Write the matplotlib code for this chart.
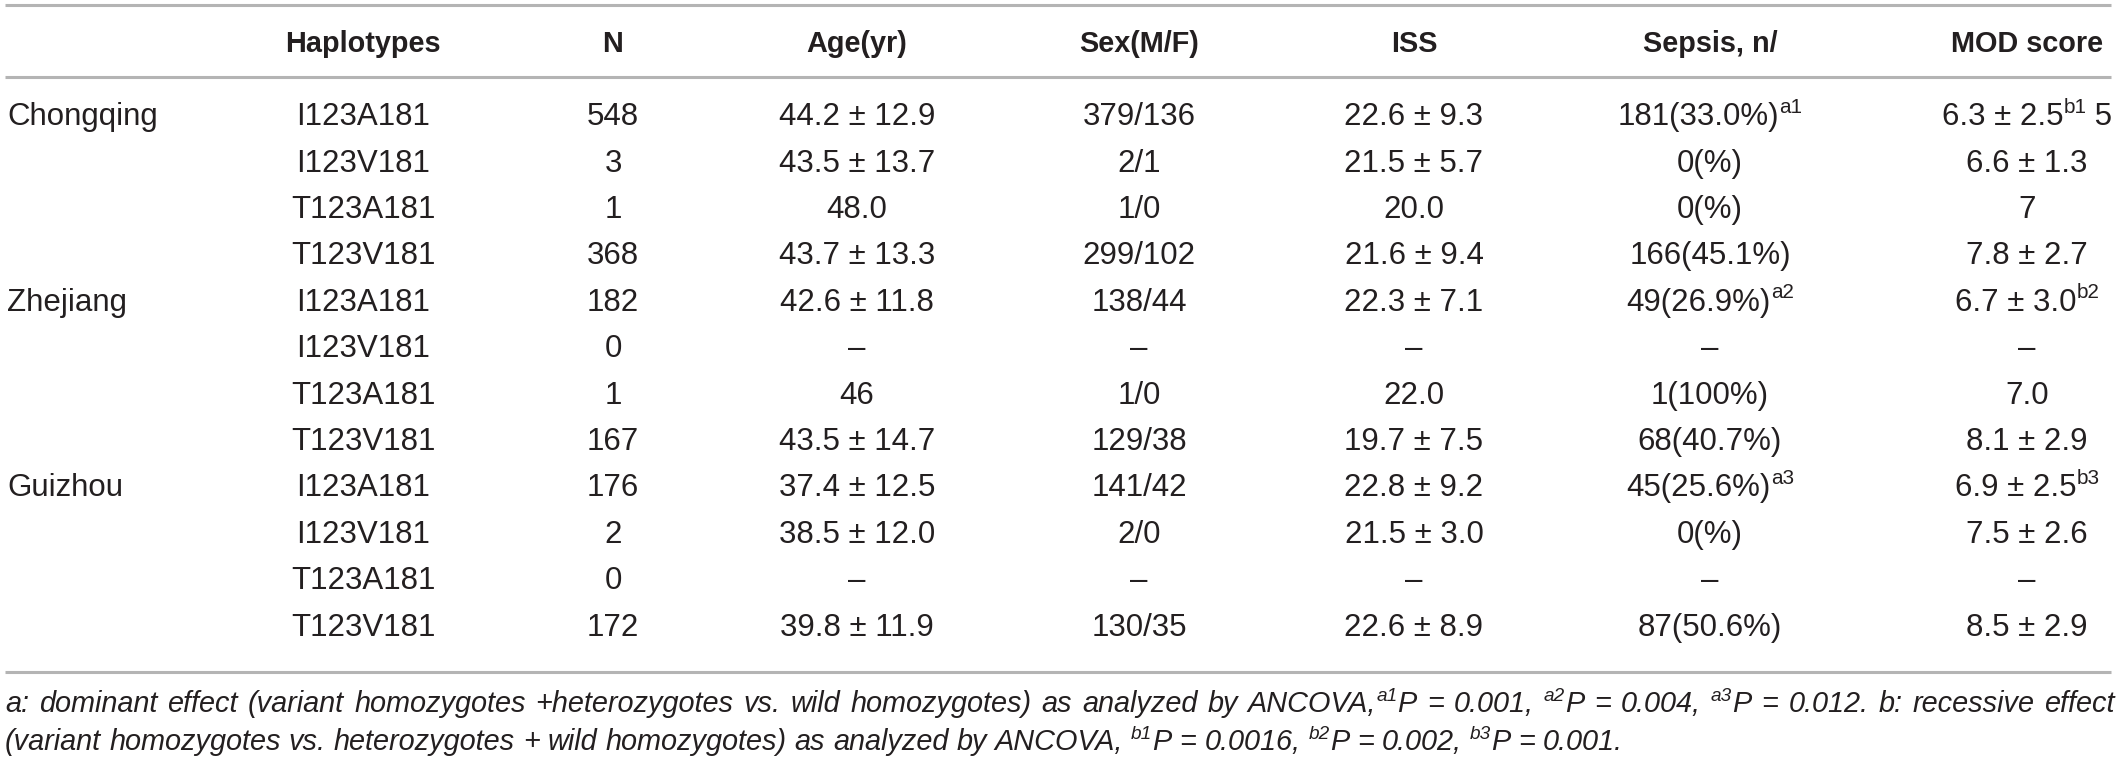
import re
import matplotlib
matplotlib.use('Agg')
import matplotlib.pyplot as plt

# ---------------- data ----------------
columns = ["", "Haplotypes", "N", "Age(yr)", "Sex(M/F)", "ISS", "Sepsis, n/", "MOD score"]
regions = ["Chongqing", "", "", "", "Zhejiang", "", "", "", "Guizhou", "", "", ""]
haplotypes = ["I123A181", "I123V181", "T123A181", "T123V181"] * 3
n_values = ["548", "3", "1", "368", "182", "0", "1", "167", "176", "2", "0", "172"]
age = ["44.2 ± 12.9", "43.5 ± 13.7", "48.0", "43.7 ± 13.3", "42.6 ± 11.8", "–", "46",
       "43.5 ± 14.7", "37.4 ± 12.5", "38.5 ± 12.0", "–", "39.8 ± 11.9"]
sex = ["379/136", "2/1", "1/0", "299/102", "138/44", "–", "1/0", "129/38", "141/42",
       "2/0", "–", "130/35"]
iss = ["22.6 ± 9.3", "21.5 ± 5.7", "20.0", "21.6 ± 9.4", "22.3 ± 7.1", "–", "22.0",
       "19.7 ± 7.5", "22.8 ± 9.2", "21.5 ± 3.0", "–", "22.6 ± 8.9"]
sepsis = ["181(33.0%)^{a1}", "0(%)", "0(%)", "166(45.1%)", "49(26.9%)^{a2}", "–", "1(100%)",
          "68(40.7%)", "45(25.6%)^{a3}", "0(%)", "–", "87(50.6%)"]
mod_score = ["6.3 ± 2.5^{b1} 5", "6.6 ± 1.3", "7", "7.8 ± 2.7", "6.7 ± 3.0^{b2}", "–", "7.0",
             "8.1 ± 2.9", "6.9 ± 2.5^{b3}", "7.5 ± 2.6", "–", "8.5 ± 2.9"]
footnote_lines = [
    "a: dominant effect (variant homozygotes +heterozygotes vs. wild homozygotes) as analyzed by "
    "ANCOVA,^{a1}P = 0.001, ^{a2}P = 0.004, ^{a3}P = 0.012. b: recessive effect",
    "(variant homozygotes vs. heterozygotes + wild homozygotes) as analyzed by ANCOVA, "
    "^{b1}P = 0.0016, ^{b2}P = 0.002, ^{b3}P = 0.001.",
]

# ---------------- style ----------------
FONT, FS = 'Liberation Sans', 22.5
FS_HEAD = 20.8
FN = 20.8
TXT = '#231f20'
LINE = '#b4b4b4'

W, H = 2118, 760
fig = plt.figure(figsize=(W / 100, H / 100), dpi=100)
ax = fig.add_axes([0, 0, 1, 1])
ax.set_xlim(0, W)
ax.set_ylim(H, 0)
ax.axis('off')
fig.canvas.draw()
renderer = fig.canvas.get_renderer()


def parse(s):
    runs = []
    for p in re.split(r'(\^\{[^}]*\})', s):
        if not p:
            continue
        if p.startswith('^{'):
            runs.append((p[2:-1], True))
        else:
            runs.append((p, False))
    return runs


def measure(txt, size, style, weight):
    def w(s):
        t = ax.text(0, 0, s, fontsize=size, family=FONT, style=style, weight=weight)
        bb = t.get_window_extent(renderer)
        t.remove()
        return bb.width
    return w('x' + txt + 'x') - w('xx')


def rich(x, yc, s, ha='center', size=FS, style='normal', weight='normal', draw=True):
    runs = parse(s)
    em = size * 100 / 72
    widths = [measure(t, size * 0.66 if sup else size, style, weight) for t, sup in runs]
    total = sum(widths)
    if not draw:
        return total
    if ha == 'center':
        x0 = x - total / 2
    elif ha == 'right':
        x0 = x - total
    else:
        x0 = x
    base = yc + 0.36 * em
    for (t, sup), wd in zip(runs, widths):
        if sup:
            ax.text(x0, base - 0.40 * em, t, fontsize=size * 0.66, family=FONT, style=style,
                    weight=weight, color=TXT, ha='left', va='baseline')
        else:
            ax.text(x0, base, t, fontsize=size, family=FONT, style=style, weight=weight,
                    color=TXT, ha='left', va='baseline')
        x0 += wd
    return total


# ---------------- layout ----------------
col_x = [7, 363, 613, 857, 1139, 1414, 1710, 2027]
header_y = 42
row_y0, row_dy = 114, 46.4

for line_y in (5, 77, 672):
    ax.plot([5, 2111], [line_y, line_y], color=LINE, lw=2.2, solid_capstyle='butt')

for j, name in enumerate(columns):
    if name:
        rich(col_x[j], header_y, name, ha='center', size=FS_HEAD, weight='bold')

table_cols = [regions, haplotypes, n_values, age, sex, iss, sepsis, mod_score]
for i in range(len(haplotypes)):
    yc = row_y0 + i * row_dy
    for j, col in enumerate(table_cols):
        val = col[i]
        if not val:
            continue
        rich(col_x[j], yc, val, ha='left' if j == 0 else 'center')

# footnotes (first line justified to full width)
space_w = measure(' ', FN, 'italic', 'normal')
fn_y = [702, 740]
for k, line in enumerate(footnote_lines):
    tokens = line.split(' ')
    widths = [rich(0, 0, t, size=FN, style='italic', draw=False) for t in tokens]
    gap = space_w
    if k == 0:
        gap = (W - 8 - sum(widths)) / (len(tokens) - 1)
    x = 5
    for t, wd in zip(tokens, widths):
        rich(x, fn_y[k], t, ha='left', size=FN, style='italic')
        x += wd + gap

fig.savefig('out.png', dpi=100)
